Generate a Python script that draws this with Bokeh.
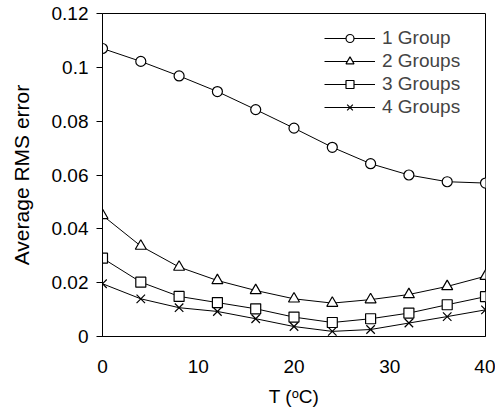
from bokeh.plotting import figure
from bokeh.models import Range1d, FixedTicker, CustomJSTickFormatter, Legend, LegendItem
from bokeh.embed import file_html
from bokeh.resources import INLINE

T = [0, 4, 8, 12, 16, 20, 24, 28, 32, 36, 40]
g1 = [0.107, 0.1022, 0.0968, 0.091, 0.0843, 0.0774, 0.0703, 0.0642, 0.0600, 0.0575, 0.0570]
g2 = [0.045, 0.0336, 0.0258, 0.0208, 0.0171, 0.0140, 0.0124, 0.0137, 0.0156, 0.0186, 0.0224]
g3 = [0.0291, 0.0202, 0.0149, 0.0126, 0.0103, 0.0072, 0.0052, 0.0066, 0.0087, 0.0118, 0.0148]
g4 = [0.0196, 0.0140, 0.0107, 0.0093, 0.0066, 0.0037, 0.0019, 0.0026, 0.0050, 0.0074, 0.0099]
labels = ["1 Group", "2 Groups", "3 Groups", "4 Groups"]
x_ticks = [0, 10, 20, 30, 40]
y_ticks = [0, 0.02, 0.04, 0.06, 0.08, 0.10, 0.12]

FONT = "Liberation Sans"
FS = "19px"

p = figure(width=495, height=410, output_backend="svg", toolbar_location=None,
           x_range=Range1d(0, 40), y_range=Range1d(0, 0.12),
           min_border_left=102, min_border_right=10, min_border_top=13, min_border_bottom=74)
p.grid.visible = False
p.outline_line_color = "black"
p.outline_line_width = 1
p.background_fill_color = "white"
p.border_fill_color = "white"

for ax in (p.xaxis[0], p.yaxis[0]):
    ax.axis_line_color = "black"
    ax.major_label_text_font = FONT
    ax.major_label_text_font_size = FS
    ax.major_label_text_color = "black"
    ax.axis_label_text_font = FONT
    ax.axis_label_text_font_size = FS
    ax.axis_label_text_font_style = "normal"
    ax.axis_label_text_color = "black"
    ax.minor_tick_line_color = None

p.xaxis.ticker = FixedTicker(ticks=x_ticks)
p.xaxis.major_tick_in = 0
p.xaxis.major_tick_out = 0
p.xaxis.major_label_standoff = 23
p.xaxis.axis_label = "T (ᵒC)"
p.xaxis.axis_label_standoff = 10

p.yaxis.ticker = FixedTicker(ticks=y_ticks)
p.yaxis.formatter = CustomJSTickFormatter(code="return String(Math.round(tick*100)/100);")
p.yaxis.major_tick_in = 0
p.yaxis.major_tick_out = 6
p.yaxis.major_tick_line_color = "black"
p.yaxis.major_label_standoff = 8
p.yaxis.axis_label = "Average RMS error"
p.yaxis.axis_label_text_font_size = "21px"
p.yaxis.axis_label_standoff = 16

series = [g1, g2, g3, g4]
markers = ["circle", "triangle", "square", "x"]
sizes = [10, 11, 10, 12]
items = []
for ys, mk, sz, lab in zip(series, markers, sizes, labels):
    ln = p.line(T, ys, line_color="black", line_width=1)
    sc = p.scatter(T, ys, marker=mk, size=sz, fill_color="white", line_color="black", line_width=1.2)
    items.append(LegendItem(label=lab, renderers=[ln, sc]))

legend = Legend(items=items, location="top_right")
legend.background_fill_alpha = 0
legend.border_line_color = None
legend.glyph_width = 51
legend.glyph_height = 20
legend.spacing = 1
legend.padding = 0
legend.margin = 14
legend.label_text_font = FONT
legend.label_text_font_size = FS
legend.label_standoff = 7
legend.label_height = 20
legend.label_width = 89
p.add_layout(legend)

open("out.html", "w").write(file_html(p, INLINE))
